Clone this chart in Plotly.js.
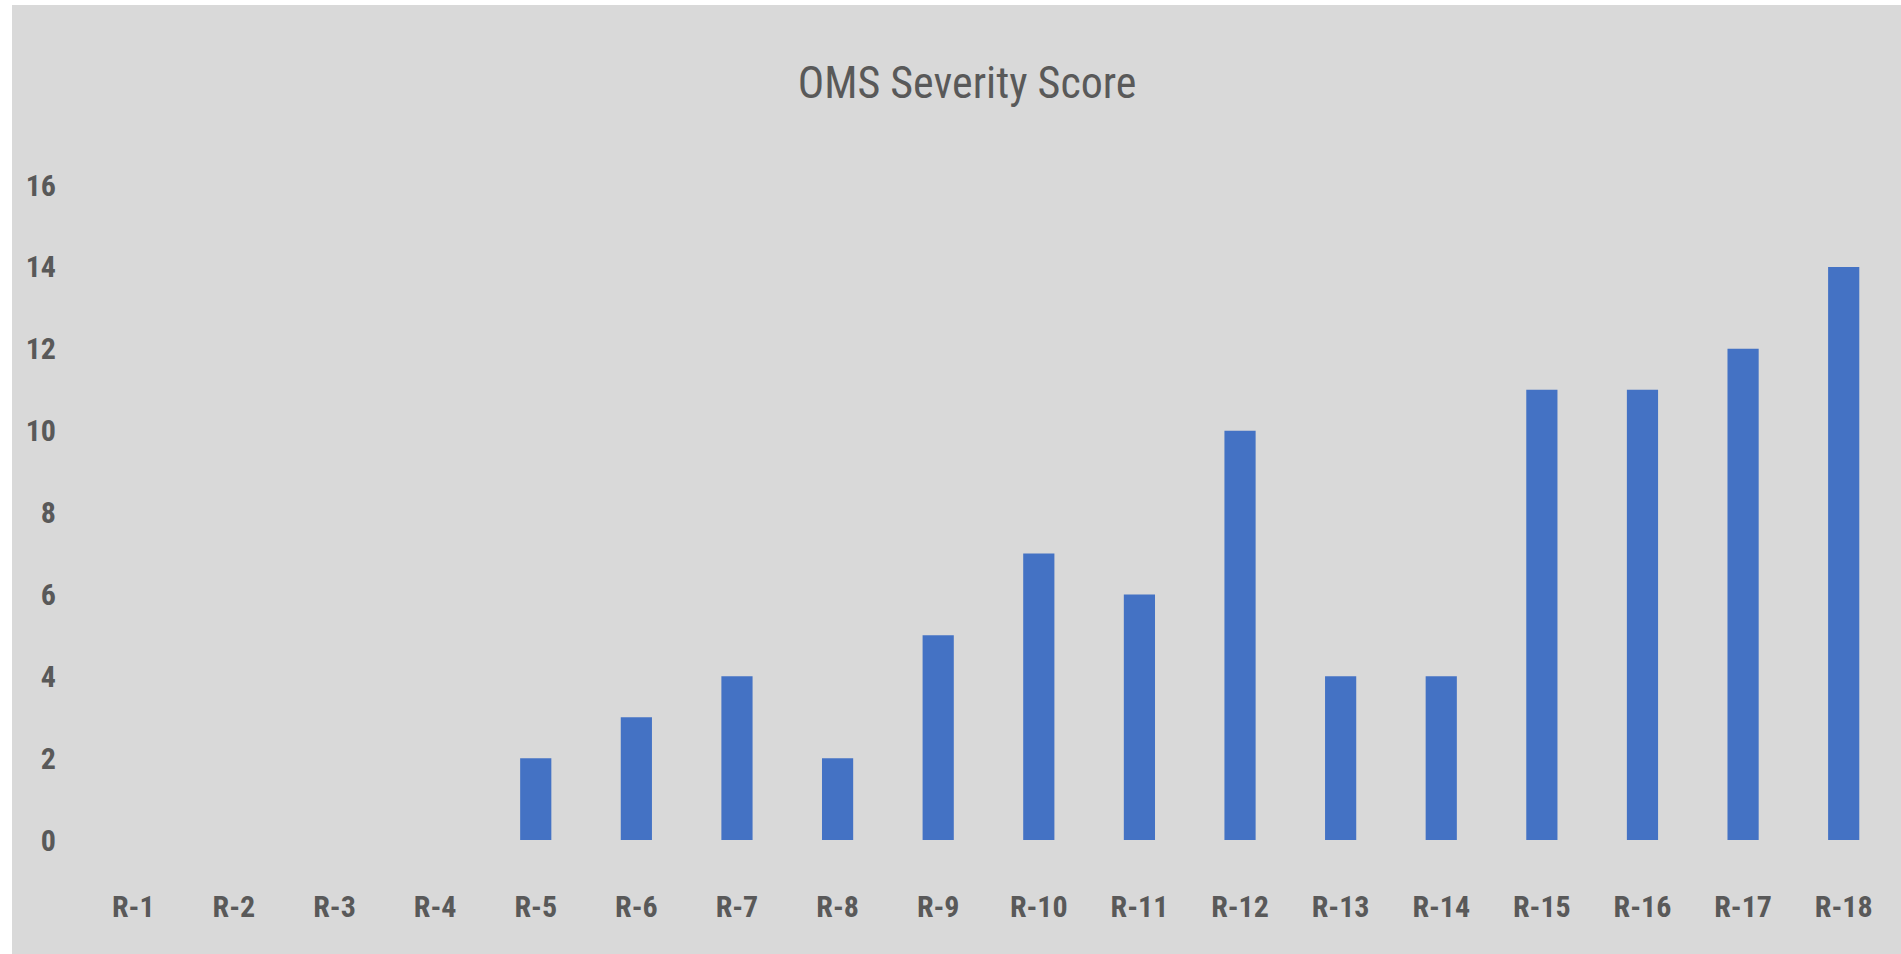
<!DOCTYPE html>
<html>
<head>
<meta charset="utf-8">
<script src="https://cdn.plot.ly/plotly-3.0.1.min.js"></script>
<style>
  html, body { margin: 0; padding: 0; background: #ffffff; width: 1901px; height: 954px; overflow: hidden; }
  #chart { position: absolute; left: 12px; top: 5px; width: 1889px; height: 949px; }
</style>
</head>
<body>
<div id="chart"></div>
<script>
const categories = ["R-1","R-2","R-3","R-4","R-5","R-6","R-7","R-8","R-9","R-10","R-11","R-12","R-13","R-14","R-15","R-16","R-17","R-18"];
const scores = [0, 0, 0, 0, 2, 3, 4, 2, 5, 7, 6, 10, 4, 4, 11, 11, 12, 14];
const yTicks = [0, 2, 4, 6, 8, 10, 12, 14, 16];
const chartTitle = "OMS Severity Score";

const fontFam = '"Liberation Sans Narrow", "Roboto Condensed", "DejaVu Sans Condensed", sans-serif';
const textColor = "#595959";

const trace = {
  type: "bar",
  x: categories,
  y: scores,
  marker: { color: "#4472C4", line: { width: 0 } },
  hoverinfo: "x+y"
};

const layout = {
  width: 1889,
  height: 949,
  paper_bgcolor: "#d9d9d9",
  plot_bgcolor: "#d9d9d9",
  margin: { l: 71, r: 7, t: 180, b: 114 },
  bargap: 0.69,
  showlegend: false,
  title: {
    text: chartTitle,
    font: { family: fontFam, size: 44, color: textColor },
    x: 0.5056, xref: "container", xanchor: "center",
    y: 0.918, yref: "container", yanchor: "middle"
  },
  xaxis: {
    type: "category",
    range: [-0.5, 17.5],
    showgrid: false,
    showline: false,
    zeroline: false,
    ticks: "",
    ticklabelstandoff: 46,
    tickfont: { family: fontFam, size: 30, color: textColor, weight: "bold" }
  },
  yaxis: {
    range: [0, 16],
    tickvals: yTicks,
    ticktext: yTicks.map(String),
    showgrid: false,
    showline: false,
    zeroline: false,
    ticks: "",
    ticklabelstandoff: 26,
    tickfont: { family: fontFam, size: 30, color: textColor, weight: "bold" }
  }
};

Plotly.newPlot("chart", [trace], layout, { displayModeBar: false, staticPlot: true });
</script>
</body>
</html>
